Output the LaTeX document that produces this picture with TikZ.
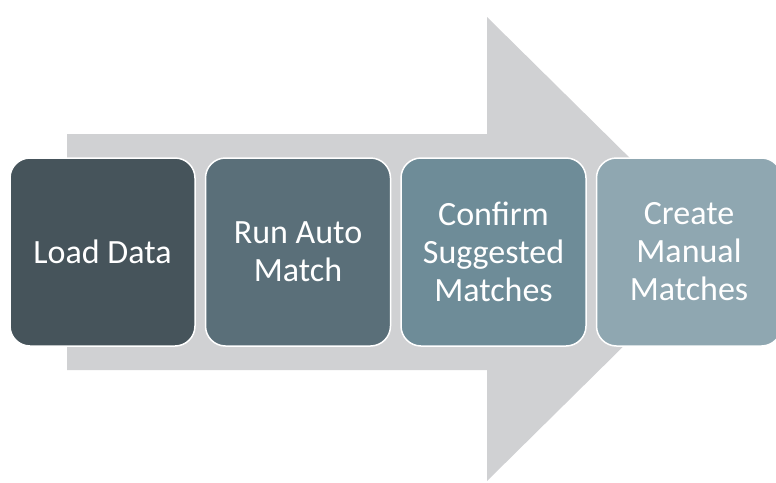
\documentclass[tikz,border=0pt]{standalone}
\usepackage{fontspec}
\setmainfont{Carlito}
\usetikzlibrary{positioning}

\definecolor{arrowgray}{HTML}{D0D1D3}
\definecolor{stageA}{HTML}{46545B}
\definecolor{stageB}{HTML}{5A6F79}
\definecolor{stageC}{HTML}{6E8C98}
\definecolor{stageD}{HTML}{8FA7B1}

\tikzset{
  stage/.style={draw=white, line width=1.5pt, rounded corners=20pt,
    minimum width=185pt, minimum height=188pt, inner sep=0pt,
    text=white, align=center, font=\fontsize{34}{38}\selectfont}
}

\begin{document}
\begin{tikzpicture}[x=1pt,y=-1pt]
   \useasboundingbox (0,0) rectangle (776,482);
   % big arrow behind the steps
   \fill[arrowgray] (67,134) -- (487,134) -- (487,17) -- (722,249)
      -- (487,481) -- (487,370) -- (67,370) -- cycle;

   \node[stage, fill=stageA] (load) at (102.5,252) {Load Data};
   \node[stage, fill=stageB, right=9pt of load] (auto) {Run Auto\\Match};
   \node[stage, fill=stageC, right=9pt of auto] (confirm) {Confirm\\Suggested\\Matches};
   \node[stage, fill=stageD, right=9pt of confirm] (manual) {Create\\Manual\\Matches};
\end{tikzpicture}
\end{document}
